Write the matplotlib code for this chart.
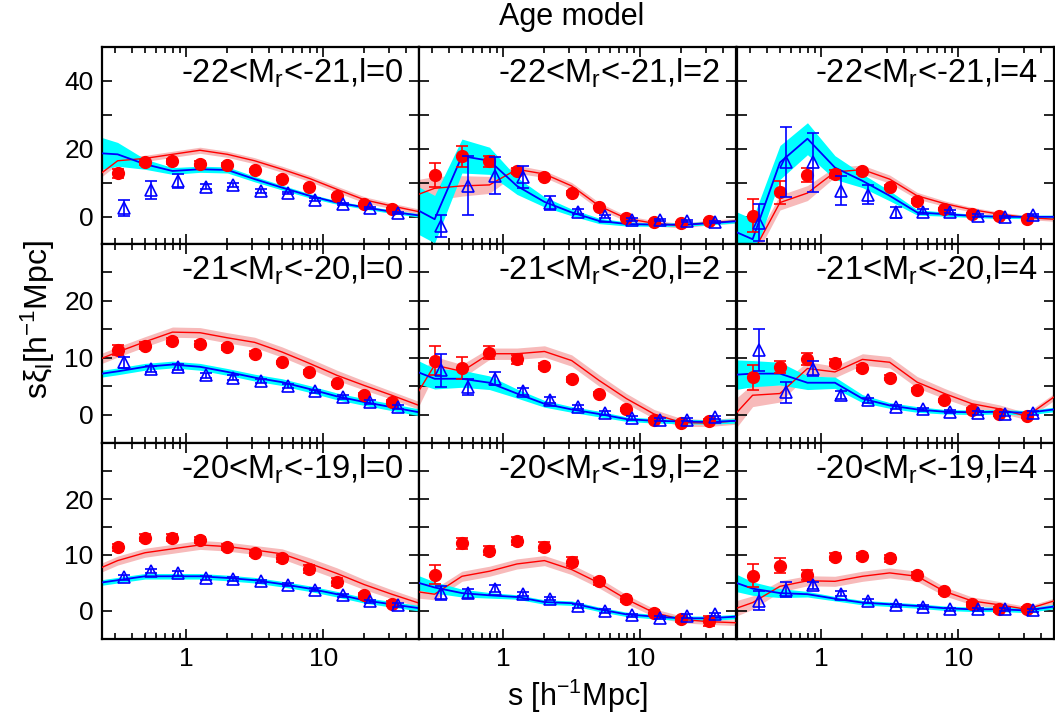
import matplotlib
matplotlib.use('Agg')
import matplotlib.pyplot as plt
from matplotlib.ticker import NullFormatter, FixedLocator, FixedFormatter, LogLocator

plt.rcParams['font.family'] = ['Liberation Sans', 'DejaVu Sans']
plt.rcParams['mathtext.fontset'] = 'custom'
plt.rcParams['mathtext.rm'] = 'Liberation Sans'
plt.rcParams['mathtext.it'] = 'Liberation Sans'
plt.rcParams['mathtext.default'] = 'regular'

# separations (h^-1 Mpc)
s_data = [0.316, 0.5, 0.794, 1.26, 2.0, 3.16, 5.01, 7.94, 12.6, 20.0, 31.6]
s_tri = [0.35, 0.55, 0.87, 1.4, 2.2, 3.5, 5.5, 8.7, 14.0, 22.0, 35.0]
s_model = [0.2, 0.316, 0.5, 0.794, 1.26, 2.0, 3.16, 5.01, 7.94, 12.6, 20.0, 31.6, 50.1]

titles = ['-22<M$_r$<-21,l=0', '-22<M$_r$<-21,l=2', '-22<M$_r$<-21,l=4',
          '-21<M$_r$<-20,l=0', '-21<M$_r$<-20,l=2', '-21<M$_r$<-20,l=4',
          '-20<M$_r$<-19,l=0', '-20<M$_r$<-19,l=2', '-20<M$_r$<-19,l=4']

# red filled circles (data) and errors
red_pts = [
    [12.8, 16.0, 16.4, 15.7, 15.4, 13.7, 11.2, 8.7, 6.2, 3.9, 2.4],
    [12.3, 17.8, 16.3, 13.5, 11.6, 7.0, 2.9, -0.2, -1.5, -1.8, -1.3],
    [0.3, 7.2, 12.3, 12.6, 13.4, 8.9, 4.7, 2.3, 0.8, 0.1, -0.5],
    [11.3, 12.1, 12.9, 12.4, 11.8, 10.7, 9.2, 7.5, 5.5, 3.5, 2.2],
    [9.5, 8.2, 10.9, 9.7, 8.5, 6.2, 3.7, 0.9, -0.9, -1.4, -1.1],
    [6.6, 8.4, 9.8, 9.1, 8.2, 6.5, 4.4, 2.5, 0.8, 0.1, -0.3],
    [11.4, 13.1, 13.1, 12.7, 11.4, 10.4, 9.4, 7.5, 5.2, 2.8, 1.3],
    [6.5, 12.1, 10.8, 12.5, 11.5, 8.8, 5.3, 2.1, -0.3, -1.5, -1.8],
    [6.3, 8.1, 6.5, 9.7, 9.8, 9.4, 6.4, 3.5, 1.2, 0.3, 0.4],
]
red_err = [
    [1.4, 0.8, 0.7, 0.6, 0.5, 0.4, 0.4, 0.3, 0.3, 0.3, 0.3],
    [3.6, 3.0, 1.6, 0.9, 0.6, 0.5, 0.4, 0.4, 0.3, 0.3, 0.3],
    [4.9, 3.4, 2.0, 1.3, 0.8, 0.6, 0.5, 0.4, 0.3, 0.3, 0.3],
    [0.9, 0.6, 0.5, 0.5, 0.4, 0.4, 0.3, 0.3, 0.3, 0.3, 0.3],
    [2.5, 2.0, 1.2, 0.8, 0.5, 0.4, 0.3, 0.3, 0.3, 0.3, 0.3],
    [2.2, 1.1, 1.0, 0.6, 0.5, 0.4, 0.3, 0.3, 0.3, 0.3, 0.3],
    [0.6, 0.6, 0.6, 0.6, 0.5, 0.5, 0.6, 0.7, 0.7, 0.5, 0.4],
    [1.7, 1.0, 0.8, 0.8, 0.8, 0.8, 0.6, 0.5, 0.5, 0.5, 0.9],
    [2.1, 1.4, 0.9, 0.6, 0.6, 0.6, 0.5, 0.4, 0.4, 0.4, 0.4],
]

# blue open triangles (data) and errors
blue_pts = [
    [2.6, 7.9, 10.6, 8.9, 9.4, 7.6, 7.0, 5.0, 3.9, 2.6, 1.1],
    [-2.8, 9.1, 12.1, 11.8, 4.0, 1.5, 0.1, -0.8, -1.0, -1.3, -1.5],
    [-1.7, 16.2, 16.0, 7.7, 6.5, 1.3, 1.5, 1.5, 0.3, 0.0, 0.6],
    [9.2, 8.0, 8.4, 6.9, 6.5, 5.9, 5.0, 4.1, 3.1, 2.2, 1.3],
    [7.8, 4.8, 6.3, 4.1, 2.6, 1.3, 0.3, -0.6, -0.9, -0.9, -0.5],
    [11.3, 3.9, 8.1, 3.5, 2.5, 1.3, 0.9, 0.5, 0.3, 0.1, 0.3],
    [6.0, 7.1, 6.7, 5.9, 5.7, 5.3, 4.7, 3.8, 2.8, 1.7, 1.1],
    [3.2, 3.2, 4.0, 3.0, 2.2, 0.9, 0.0, -0.8, -1.2, -0.9, -0.6],
    [1.8, 3.8, 4.6, 3.1, 1.8, 1.0, 0.7, 0.3, 0.3, 0.3, 0.1],
]
blue_err = [
    [2.3, 2.7, 2.0, 0.8, 0.6, 0.5, 0.4, 0.4, 0.3, 0.3, 0.3],
    [3.2, 8.7, 5.4, 3.3, 2.0, 0.7, 0.5, 0.4, 0.3, 0.3, 0.3],
    [5.4, 10.3, 8.6, 4.2, 2.8, 1.5, 0.7, 0.5, 0.4, 0.3, 0.3],
    [1.0, 0.6, 0.5, 0.4, 0.4, 0.3, 0.3, 0.3, 0.3, 0.3, 0.3],
    [2.9, 1.4, 1.1, 0.6, 0.5, 0.4, 0.3, 0.3, 0.3, 0.3, 0.3],
    [3.7, 1.9, 1.3, 0.7, 0.4, 0.3, 0.3, 0.3, 0.3, 0.3, 0.3],
    [0.4, 0.4, 0.4, 0.3, 0.3, 0.3, 0.3, 0.3, 0.3, 0.3, 0.3],
    [1.2, 0.8, 0.6, 0.4, 0.3, 0.3, 0.3, 0.3, 0.3, 0.3, 0.3],
    [1.7, 1.3, 0.6, 0.4, 0.3, 0.3, 0.3, 0.3, 0.3, 0.3, 0.3],
]

# model curves (red line + pink band, blue line + cyan band)
red_mod = [
    [10.4, 16.5, 17.2, 18.4, 19.6, 18.4, 16.5, 14.0, 11.3, 8.1, 5.0, 3.2, 1.5],
    [5.4, 8.4, 9.1, 9.4, 14.0, 12.6, 9.1, 3.2, -0.5, -1.9, -2.6, -1.7, -1.2],
    [-15.0, -10.7, 4.2, 7.0, 13.2, 13.9, 11.1, 6.2, 3.9, 2.1, 0.8, -0.2, -0.7],
    [9.1, 11.0, 12.8, 14.5, 14.4, 13.5, 12.7, 11.0, 9.0, 6.9, 5.1, 3.4, 1.6],
    [0.9, 8.7, 7.6, 10.7, 10.7, 11.1, 9.5, 6.0, 2.8, 0.1, -1.4, -1.5, -1.1],
    [-1.8, 3.4, 3.7, 8.1, 7.5, 9.7, 9.2, 5.7, 3.7, 1.9, 1.0, -0.3, 3.1],
    [6.9, 9.0, 10.4, 11.1, 11.8, 11.5, 10.9, 10.2, 8.5, 6.7, 4.7, 3.0, 1.4],
    [3.7, 3.0, 6.2, 7.1, 8.4, 9.0, 7.4, 5.0, 2.1, -0.3, -1.5, -1.9, -2.1],
    [-0.2, 1.5, 4.4, 5.4, 5.3, 6.2, 6.8, 6.2, 3.5, 1.8, 1.1, 0.3, 1.8],
]
red_band = [
    [1.2, 1.0, 0.9, 0.9, 0.9, 0.9, 0.9, 0.9, 0.9, 0.9, 0.9, 0.8, 0.8],
    [5.0, 3.5, 3.0, 2.5, 1.2, 1.0, 1.0, 1.0, 0.8, 0.8, 0.7, 0.7, 0.7],
    [3.0, 2.5, 2.2, 2.2, 1.5, 1.3, 1.2, 1.0, 0.8, 0.7, 0.6, 0.6, 0.6],
    [0.9, 0.9, 0.9, 0.9, 0.9, 0.9, 0.9, 0.9, 0.9, 0.9, 0.8, 0.7, 0.7],
    [3.5, 1.5, 1.2, 1.0, 1.0, 1.0, 1.0, 1.0, 0.9, 0.8, 0.7, 0.6, 0.6],
    [3.0, 2.0, 1.5, 1.2, 1.0, 1.0, 1.0, 1.0, 0.9, 0.8, 0.7, 0.6, 0.6],
    [0.8, 0.8, 0.8, 0.8, 0.8, 0.8, 0.8, 0.9, 1.0, 1.0, 0.9, 0.8, 0.7],
    [1.2, 1.0, 0.9, 0.9, 0.9, 0.9, 0.9, 0.9, 0.8, 0.7, 0.6, 0.5, 0.5],
    [1.5, 1.2, 1.0, 0.9, 0.9, 0.9, 0.9, 0.9, 0.8, 0.7, 0.6, 0.5, 0.5],
]
blue_mod = [
    [18.9, 18.4, 15.5, 13.5, 14.0, 13.8, 11.1, 8.6, 6.2, 4.2, 2.8, 1.5, 0.4],
    [3.6, -0.7, 17.9, 16.5, 9.1, 4.4, 1.3, -1.2, -2.1, -2.3, -2.3, -1.9, -1.3],
    [-3.1, -6.6, 16.0, 23.0, 14.5, 10.6, 6.2, 1.3, 0.8, 0.3, 0.0, 0.0, 0.0],
    [6.9, 7.6, 8.4, 8.8, 8.4, 7.5, 6.5, 5.7, 4.5, 3.2, 2.2, 1.3, 0.4],
    [8.2, 6.3, 6.3, 5.6, 3.7, 1.9, 0.9, 0.1, -0.8, -1.1, -1.2, -1.3, -1.1],
    [6.9, 7.2, 7.2, 5.6, 5.6, 2.8, 1.6, 0.9, 0.5, 0.4, 0.5, 0.3, 0.9],
    [4.8, 5.5, 6.2, 6.2, 6.2, 5.9, 5.5, 4.8, 4.0, 3.0, 1.9, 1.2, 0.5],
    [5.6, 4.2, 3.2, 2.8, 2.5, 1.6, 1.4, 0.3, -0.6, -1.0, -1.3, -1.3, -1.0],
    [5.7, 4.0, 3.2, 3.0, 2.2, 1.5, 1.2, 0.9, 0.5, 0.3, 0.3, 0.1, 0.8],
]
blue_band = [
    [5.5, 3.5, 1.5, 1.0, 0.9, 0.9, 0.8, 0.7, 0.6, 0.5, 0.5, 0.5, 0.5],
    [7.0, 7.0, 5.0, 4.0, 2.5, 1.5, 1.0, 0.8, 0.6, 0.5, 0.5, 0.5, 0.5],
    [6.0, 6.0, 5.0, 4.7, 3.5, 2.0, 1.5, 0.8, 0.6, 0.5, 0.5, 0.5, 0.5],
    [0.6, 0.6, 0.6, 0.6, 0.6, 0.6, 0.6, 0.6, 0.6, 0.6, 0.6, 0.6, 0.6],
    [2.2, 1.8, 1.5, 1.2, 0.8, 0.6, 0.5, 0.5, 0.4, 0.4, 0.4, 0.4, 0.4],
    [2.8, 2.3, 2.0, 1.2, 1.0, 0.7, 0.5, 0.5, 0.4, 0.4, 0.4, 0.4, 0.4],
    [0.5, 0.5, 0.5, 0.5, 0.5, 0.5, 0.5, 0.5, 0.5, 0.5, 0.5, 0.5, 0.5],
    [1.5, 1.0, 0.7, 0.5, 0.4, 0.4, 0.4, 0.4, 0.4, 0.4, 0.4, 0.4, 0.4],
    [1.8, 1.2, 0.8, 0.5, 0.4, 0.4, 0.4, 0.4, 0.4, 0.4, 0.4, 0.4, 0.4],
]

W, H = 1055, 717
fig = plt.figure(figsize=(W / 100, H / 100), dpi=100)

col_x = [102, 419, 737]
col_w = 317
row_y = [(47, 244), (244, 443), (443, 639)]
ylims = [(-8, 50), (-5, 30), (-5, 30)]

for i in range(9):
    r, c = divmod(i, 3)
    top, bot = row_y[r]
    ax = fig.add_axes([col_x[c] / W, 1 - bot / H, col_w / W, (bot - top) / H])

    rm, rb = red_mod[i], red_band[i]
    bm, bb = blue_mod[i], blue_band[i]
    ax.fill_between(s_model, [m - b for m, b in zip(rm, rb)], [m + b for m, b in zip(rm, rb)],
                    color='#f7baba', lw=0, zorder=1)
    ax.fill_between(s_model, [m - b for m, b in zip(bm, bb)], [m + b for m, b in zip(bm, bb)],
                    color='#00ffff', lw=0, zorder=2)
    ax.plot(s_model, rm, color='#ff0000', lw=1.0, zorder=3)
    ax.plot(s_model, bm, color='#0000ff', lw=1.3, zorder=4)

    ax.errorbar(s_data, red_pts[i], yerr=red_err[i], fmt='o', color='#ff0000', ms=8.5,
                elinewidth=1.2, capsize=4, capthick=1.2, zorder=5)
    ax.errorbar(s_tri, blue_pts[i], yerr=blue_err[i], fmt='^', color='#0000ff', mfc='none',
                ms=8, mew=1.2, elinewidth=1.2, capsize=4, capthick=1.2, zorder=6)

    ax.set_xscale('log')
    ax.set_xlim(0.243, 50)
    ax.set_ylim(*ylims[r])

    ax.xaxis.set_major_locator(FixedLocator([1, 10]))
    ax.xaxis.set_minor_locator(LogLocator(base=10, subs=range(2, 10)))
    ax.xaxis.set_minor_formatter(NullFormatter())
    if r == 2:
        ax.xaxis.set_major_formatter(FixedFormatter(['1', '10']))
    else:
        ax.xaxis.set_major_formatter(NullFormatter())

    if r == 0:
        ax.set_yticks([0, 10, 20, 30, 40])
        ylab = ['0', '', '20', '', '40']
    else:
        ax.set_yticks([0, 5, 10, 15, 20, 25])
        ylab = ['0', '', '10', '', '20', '']
    if c == 0:
        ax.set_yticklabels(ylab)
    else:
        ax.set_yticklabels([''] * len(ylab))

    ax.tick_params(which='both', direction='in', top=True, right=True, labelsize=19,
                   width=1.2)
    ax.tick_params(which='major', length=7, pad=6)
    ax.tick_params(which='minor', length=4.5)
    for sp in ax.spines.values():
        sp.set_linewidth(1.6)

    ax.text(0.95, 1 - 36 / (bot - top), titles[i], transform=ax.transAxes,
            ha='right', va='baseline', fontsize=23.5, zorder=10)

fig.text(572 / W, 1 - 17 / H, 'Age model', ha='center', va='center', fontsize=22)
fig.text(577 / W, 1 - 696 / H, 's [h$^{-1}$Mpc]', ha='center', va='center', fontsize=22)
fig.text(38 / W, 1 - 320 / H, 's\u03be$_l$[h$^{-1}$Mpc]', ha='center', va='center',
         rotation=90, fontsize=23)

fig.savefig('out.png', dpi=100)
